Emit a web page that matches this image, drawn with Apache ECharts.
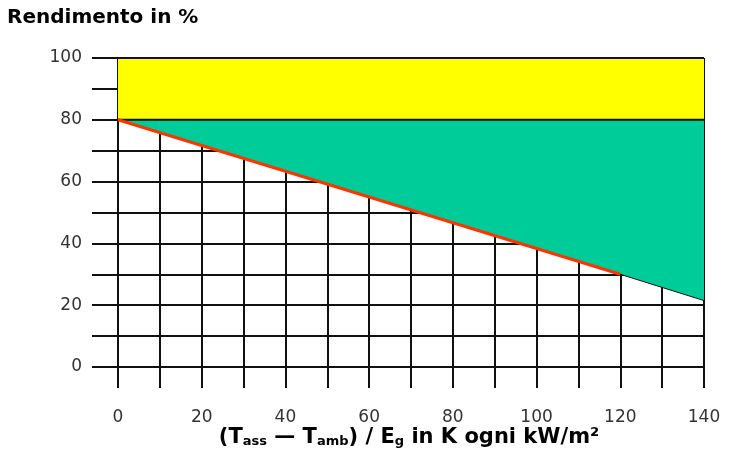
<!DOCTYPE html>
<html>
<head>
<meta charset="utf-8">
<script src="https://cdn.jsdelivr.net/npm/echarts@6/dist/echarts.min.js"></script>
<style>
  html, body { margin: 0; padding: 0; background: #fff; }
  #main { width: 730px; height: 466px; }
</style>
</head>
<body>
<div id="main"></div>
<script>
// dati
var deltaT = [0, 120, 140];              // (T_ass - T_amb)/E_g
var rendimento = [80, 30, 21.5];         // rendimento in %
var rendimentoOttico = 80;               // limite perdite ottiche
var rendimentoMax = 100;
var xTicks = [0, 20, 40, 60, 80, 100, 120, 140];
var yTicks = [0, 20, 40, 60, 80, 100];

var nero = '#111';
var font = 'DejaVu Sans';

function pts(xs, ys) {
    return xs.map(function (x, i) { return [x, ys[i]]; });
}

var curva = pts(deltaT, rendimento);
var xEnd = deltaT[deltaT.length - 1];

var chart = echarts.init(document.getElementById('main'));

var option = {
    backgroundColor: '#fff',
    animation: false,
    grid: { left: 118, right: 26, top: 58, bottom: 99 },
    xAxis: {
        type: 'value', min: 0, max: 140, interval: 10,
        axisLine: { show: true, lineStyle: { color: nero, width: 2 } },
        axisTick: { show: true, length: 21, lineStyle: { color: nero, width: 2 } },
        splitLine: { show: true, lineStyle: { color: nero, width: 2 } },
        axisLabel: {
            margin: 42, fontSize: 17, fontFamily: font, color: '#333',
            formatter: function (v) { return xTicks.indexOf(v) >= 0 ? String(v) : ''; }
        }
    },
    yAxis: {
        type: 'value', min: 0, max: 100, interval: 10,
        axisLine: { show: true, lineStyle: { color: nero, width: 2 } },
        axisTick: { show: true, length: 26, lineStyle: { color: nero, width: 2 } },
        splitLine: { show: true, lineStyle: { color: nero, width: 2 } },
        axisLabel: {
            margin: 36, fontSize: 17, fontFamily: font, color: '#333',
            formatter: function (v) { return yTicks.indexOf(v) >= 0 ? String(v) : ''; }
        }
    },
    series: [
        {   // perdite ottiche
            type: 'line', symbol: 'none', z: 2,
            data: [[0, rendimentoMax], [xEnd, rendimentoMax]],
            lineStyle: { color: nero, width: 2 },
            areaStyle: { color: '#ffff00', opacity: 1, origin: rendimentoOttico }
        },
        {   // perdite termiche
            type: 'line', symbol: 'none', z: 2,
            data: curva,
            lineStyle: { width: 0 },
            areaStyle: { color: '#00cc99', opacity: 1, origin: rendimentoOttico }
        },
        {   // confine a 80
            type: 'line', symbol: 'none', z: 3,
            data: [[0, rendimentoOttico], [xEnd, rendimentoOttico]],
            lineStyle: { color: nero, width: 2 }
        },
        {   // curva rendimento (tratto rosso)
            type: 'line', symbol: 'none', z: 4,
            data: curva.slice(0, 2),
            lineStyle: { color: '#ff3300', width: 3 }
        },
        {   // tratto finale sottile
            type: 'line', symbol: 'none', z: 4,
            data: curva.slice(1),
            lineStyle: { color: nero, width: 1 }
        }
    ],
    graphic: [
        {
            type: 'text', left: 7, top: 8,
            style: { text: 'Rendimento in %', font: 'bold 20px "DejaVu Sans"', fill: '#000' }
        },
        {
            type: 'text', x: 418, y: 86,
            style: { text: 'Perdite ottiche', font: 'bold 20px "DejaVu Sans"', fill: '#000',
                     align: 'center', verticalAlign: 'middle' }
        },
        {
            type: 'text', x: 541, y: 166,
            style: { text: 'Perdite termiche', font: 'bold 20px "DejaVu Sans"', fill: '#000',
                     align: 'center', verticalAlign: 'middle' }
        },
        {
            type: 'text', x: 409, y: 438,
            style: {
                text: '(T{s|ass} — T{s|amb}) / E{s|g} in K ogni kW/m²',
                font: 'bold 21px "DejaVu Sans"', fill: '#000',
                align: 'center', verticalAlign: 'middle',
                rich: {
                    s: { font: 'bold 13px "DejaVu Sans"', fill: '#000', verticalAlign: 'bottom', lineHeight: 12 }
                }
            }
        }
    ]
};

chart.setOption(option);
</script>
</body>
</html>
